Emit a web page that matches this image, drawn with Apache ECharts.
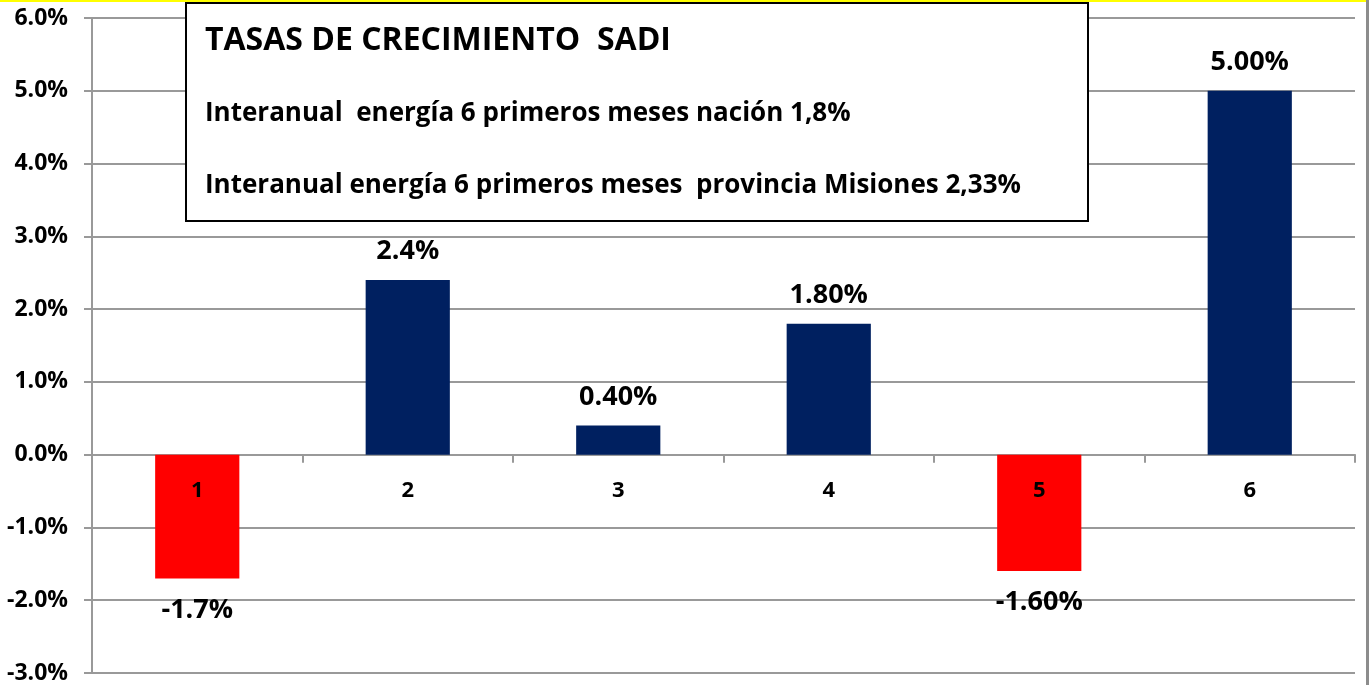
<!DOCTYPE html>
<html>
<head>
<meta charset="utf-8">
<script src="https://cdn.jsdelivr.net/npm/echarts@6/dist/echarts.min.js"></script>
<style>
  html, body { margin: 0; padding: 0; background: #fff; }
  #chart { width: 1369px; height: 685px; }
</style>
</head>
<body>
<div id="chart"></div>
<script>
  // datos del gráfico
  var meses = ["1", "2", "3", "4", "5", "6"];
  var tasas = [-1.7, 2.4, 0.4, 1.8, -1.6, 5.0];
  var etiquetas = ["-1.7%", "2.4%", "0.40%", "1.80%", "-1.60%", "5.00%"];
  var titulo = "TASAS DE CRECIMIENTO  SADI";
  var notas = [
    "Interanual  energía 6 primeros meses nación 1,8%",
    "Interanual energía 6 primeros meses  provincia Misiones 2,33%"
  ];

  var FONT = "'Open Sans', 'Liberation Sans', sans-serif";
  var AZUL = "#002060", ROJO = "#FF0000", GRIS = "#999999";

  var chart = echarts.init(document.getElementById("chart"), null, { renderer: "canvas" });

  chart.setOption({
    animation: false,
    textStyle: { fontFamily: FONT },
    grid: { left: 92, right: 14, top: 18, bottom: 12, containLabel: false, outerBoundsMode: "none" },
    xAxis: {
      type: "category", data: meses,
      axisLine: { onZero: true, lineStyle: { color: GRIS, width: 2 } },
      axisTick: { show: true, inside: false, length: 8, lineStyle: { color: GRIS, width: 2 } },
      // etiquetas de categoría dibujadas junto a la línea del cero (serie auxiliar)
      axisLabel: { show: false },
      splitLine: { show: false }
    },
    yAxis: {
      type: "value", min: -3, max: 6, interval: 1,
      axisLine: { show: true, lineStyle: { color: GRIS, width: 2 } },
      axisTick: { show: true, length: 8, lineStyle: { color: GRIS, width: 2 } },
      axisLabel: { color: "#000", fontSize: 23, fontWeight: "bold", margin: 24, fontFamily: FONT,
        formatter: function (v) { return v.toFixed(1) + "%"; } },
      splitLine: { show: true, lineStyle: { color: GRIS, width: 2 } }
    },
    series: [{
      type: "bar", barWidth: "40%",
      data: tasas.map(function (v, i) {
        var neg = v < 0;
        return {
          value: v,
          itemStyle: { color: neg ? ROJO : AZUL },
          label: { position: neg ? "bottom" : "top", distance: neg ? 18 : 15 }
        };
      }),
      label: {
        show: true, color: "#000", fontSize: 27, fontWeight: "bold", fontFamily: FONT,
        formatter: function (p) { return etiquetas[p.dataIndex]; }
      }
    }, {
      type: "scatter", symbolSize: 0, silent: true, z: 5,
      itemStyle: { opacity: 1 },
      data: meses.map(function () { return 0; }),
      label: {
        show: true, position: "bottom", distance: 25, color: "#000", opacity: 1,
        fontSize: 22, fontWeight: "bold", fontFamily: FONT,
        formatter: function (p) { return meses[p.dataIndex]; }
      }
    }],
    graphic: [
      { type: "rect", left: 0, top: 0, shape: { width: 1369, height: 2 }, style: { fill: "#FFFF00" }, z: 100 },
      { type: "rect", left: 1366, top: 0, shape: { width: 3, height: 685 }, style: { fill: "#8c8c8c" }, z: 100 },
      { type: "rect", left: 185, top: 2, shape: { width: 902, height: 218 },
        style: { fill: "#fff", stroke: "#000", lineWidth: 2 }, z: 50 },
      { type: "text", z: 51,
        style: { x: 205, y: 41, text: titulo, fill: "#000", font: "bold 32px " + FONT, verticalAlign: "middle" } },
      { type: "text", z: 51,
        style: { x: 205, y: 114, text: notas[0], fill: "#000", font: "bold 26px " + FONT, verticalAlign: "middle" } },
      { type: "text", z: 51,
        style: { x: 205, y: 186, text: notas[1], fill: "#000", font: "bold 26px " + FONT, verticalAlign: "middle" } }
    ]
  });
</script>
</body>
</html>
